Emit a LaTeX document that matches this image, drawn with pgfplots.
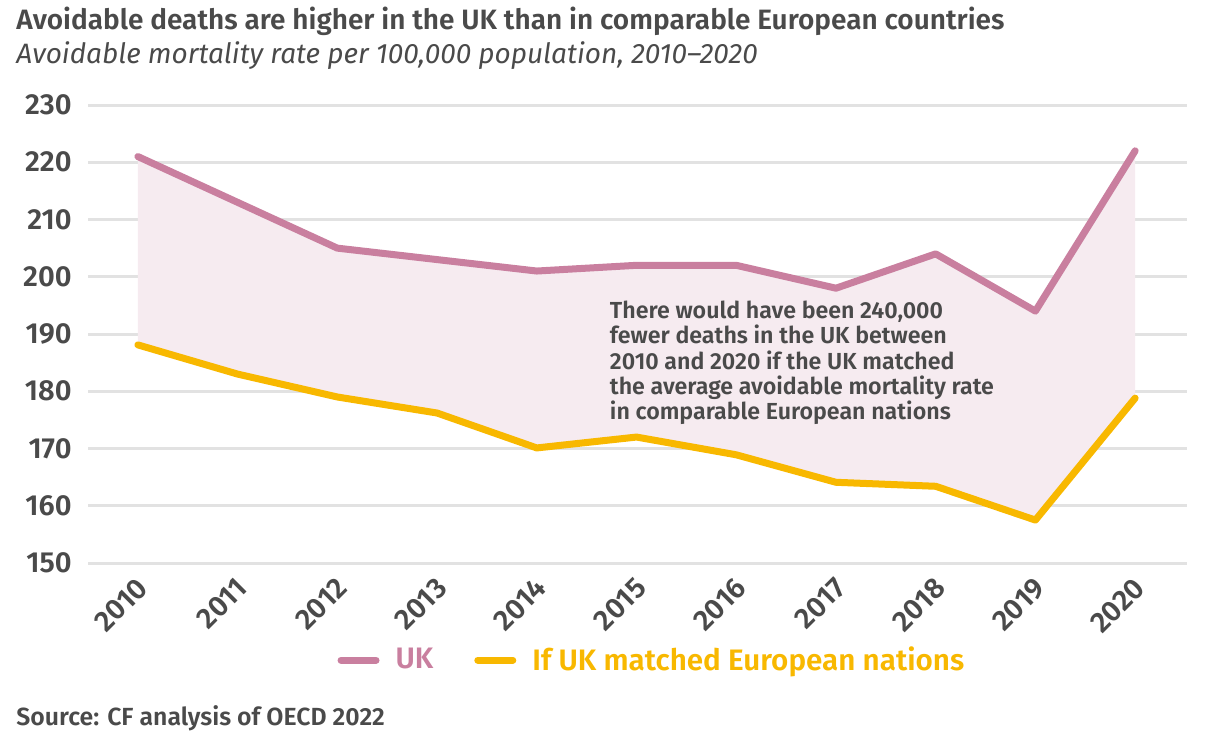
\documentclass[border=0pt]{standalone}
\usepackage{pgfplots}
\pgfplotsset{compat=1.18}
\usepgfplotslibrary{fillbetween}
\usepackage{fontspec}
\setmainfont{Fira Sans}[BoldFont={Fira Sans SemiBold}]
\definecolor{ukpink}{HTML}{C97F9F}
\definecolor{euyel}{HTML}{F8B800}
\definecolor{fillpink}{HTML}{F6EBF0}
\definecolor{txt}{HTML}{4A4A4A}
\definecolor{gridc}{HTML}{E2E2E2}
\begin{document}
\begin{tikzpicture}
\node[anchor=base west, inner sep=0pt, text=txt, font=\fontsize{14}{16}\selectfont\bfseries] at (8pt,355pt) {Avoidable deaths are higher in the UK than in comparable European countries};
\node[anchor=base west, inner sep=0pt, text=txt, font=\fontsize{14}{16}\selectfont\itshape] at (8pt,338pt) {Avoidable mortality rate per 100,000 population, 2010--2020};
\node[anchor=base west, inner sep=0pt, text=txt, font=\fontsize{12.4}{14}\selectfont\bfseries] at (8pt,7.5pt) {Source: CF analysis of OECD 2022};
\begin{axis}[
  at={(44pt,88.5pt)}, anchor=south west,
  scale only axis, width=549.5pt, height=229pt,
  xmin=2009.5, xmax=2020.52, ymin=150, ymax=230,
  axis line style={draw=none},
  tick style={draw=none},
  ytick={150,160,...,230},
  xtick={2010,...,2020},
  ymajorgrids, grid style={gridc, line width=1.5pt},
  /pgf/number format/1000 sep={},
  /pgf/number format/assume math mode=true,
  ticklabel style={text=txt, font=\fontsize{14.5}{16}\selectfont\bfseries},
  yticklabel style={inner sep=0pt, xshift=-8pt},
  xticklabel style={xshift=2.5pt, yshift=2pt, rotate=45, anchor=east, inner sep=0pt},
  xticklabel shift=12pt,
  legend style={at={(0.514,-0.212)}, anchor=center, draw=none, fill=none,
    legend columns=2, font=\fontsize{14.8}{16}\selectfont\bfseries,
    /tikz/every even column/.append style={column sep=18.5pt}},
  legend image code/.code={\draw[line width=3.5pt, line cap=round] (0pt,0pt) -- (17.5pt,0pt); \path (23.5pt,0pt);},
]
\addplot[name path=uk, ukpink, line width=3.5pt, line join=round, line cap=round] coordinates {
(2010,221) (2011,213) (2012,205) (2013,203) (2014,201) (2015,202) (2016,202) (2017,198) (2018,204) (2019,194) (2020,222)};
\addlegendentry{\textcolor{ukpink}{UK}}
\addplot[name path=eu, euyel, line width=3.5pt, line join=round, line cap=round] coordinates {
(2010,188.1) (2011,183) (2012,179) (2013,176.2) (2014,170.1) (2015,172) (2016,168.9) (2017,164.1) (2018,163.4) (2019,157.5) (2020,178.8)};
\addlegendentry{\textcolor{euyel}{If UK matched European nations}}
\addplot[fillpink, draw=none, forget plot] fill between[of=uk and eu];
\node[anchor=north west, inner sep=0pt, align=left, text=txt, font=\fontsize{11.6}{12.6}\selectfont\bfseries] at (axis cs:2014.73,195.8) {There would have been 240,000\\fewer deaths in the UK between\\2010 and 2020 if the UK matched\\the average avoidable mortality rate\\in comparable European nations};
\end{axis}
\useasboundingbox (0pt,0pt) rectangle (612.5pt,370pt);
\end{tikzpicture}
\end{document}
